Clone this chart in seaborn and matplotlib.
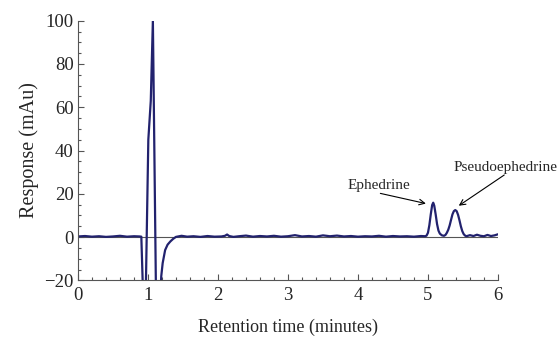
import numpy as np
import pandas as pd
import matplotlib
matplotlib.use("Agg")
import matplotlib.pyplot as plt
import seaborn as sns
from matplotlib.ticker import MultipleLocator

# retention time (min) and detector response (mAu)
time_min = [
    0.00, 0.10, 0.20, 0.30, 0.40, 0.50, 0.60, 0.70, 0.80, 0.88, 0.905,
    0.935, 0.965, 1.005, 1.04, 1.07, 1.115, 1.15, 1.175, 1.19, 1.21, 1.245,
    1.28, 1.32, 1.36, 1.40, 1.48, 1.56, 1.65, 1.75, 1.85, 1.95, 2.05, 2.10,
    2.13, 2.16, 2.22, 2.30, 2.40, 2.50, 2.60, 2.70, 2.80, 2.90, 3.00, 3.10,
    3.20, 3.30, 3.40, 3.50, 3.60, 3.70, 3.80, 3.90, 4.00, 4.10, 4.20, 4.30,
    4.40, 4.50, 4.60, 4.70, 4.80, 4.90, 4.96, 4.98, 5.00, 5.02, 5.04, 5.06,
    5.075, 5.09, 5.11, 5.13, 5.15, 5.17, 5.20, 5.23, 5.25, 5.27, 5.29, 5.31,
    5.33, 5.35, 5.37, 5.39, 5.41, 5.43, 5.45, 5.47, 5.49, 5.51, 5.53, 5.55,
    5.60, 5.65, 5.70, 5.75, 5.80, 5.85, 5.90, 5.95, 6.00,
]
response_mau = [
    0.3, 0.5, 0.2, 0.4, 0.1, 0.3, 0.6, 0.2, 0.4, 0.3, 0.2,
    -32, -32, 45, 63, 100, -28, -32, -28, -18, -12, -6,
    -3.5, -2.0, -0.8, 0.1, 0.6, 0.2, 0.4, 0.1, 0.5, 0.2, 0.3, 0.6,
    1.2, 0.5, 0.1, 0.4, 0.7, 0.2, 0.5, 0.3, 0.6, 0.2, 0.4, 0.9,
    0.3, 0.5, 0.2, 0.8, 0.4, 0.7, 0.3, 0.5, 0.2, 0.4, 0.3, 0.6,
    0.2, 0.5, 0.3, 0.4, 0.2, 0.5, 0.4, 0.7, 2.0, 5.5, 10.5, 14.8,
    15.9, 14.5, 10.5, 6.0, 3.0, 1.6, 0.8, 0.6, 1.0, 2.0, 3.4, 5.4,
    8.0, 10.5, 12.0, 12.5, 12.0, 10.3, 7.8, 5.0, 2.8, 1.4, 0.7, 0.4,
    0.9, 0.5, 1.1, 0.6, 0.4, 1.0, 0.5, 0.8, 1.3,
]

peak_labels = ["Ephedrine", "Pseudoephedrine"]
peak_tips = [(4.97, 15.5), (5.44, 14.5)]
label_pos = [(4.30, 23.8), (5.37, 32.0)]
arrow_tails = [(4.32, 20.2), (6.09, 28.7)]

df = pd.DataFrame({"time": time_min, "response": response_mau})

sns.set_style("ticks")
plt.rcParams["font.family"] = ["Liberation Serif", "DejaVu Serif"]

fig = plt.figure(figsize=(5.57, 3.37), dpi=100)
ax = fig.add_axes([0.140, 0.168, 0.754, 0.7706])

ax.axhline(0, color="#555555", lw=0.8, zorder=1)
sns.lineplot(data=df, x="time", y="response", ax=ax, color="#22226e",
             lw=1.6, estimator=None, sort=False, zorder=2)

for name, tip, pos, tail in zip(peak_labels, peak_tips, label_pos, arrow_tails):
    ha = "center" if name == "Ephedrine" else "left"
    ax.text(pos[0], pos[1], name, ha=ha, va="center", fontsize=11,
            clip_on=False)
    ax.annotate("", xy=tip, xytext=tail,
                arrowprops=dict(arrowstyle="->", color="black", lw=0.8,
                                shrinkA=0, shrinkB=0),
                annotation_clip=False)

ax.set_xlim(0, 6)
ax.set_ylim(-20, 100)
ax.xaxis.set_major_locator(MultipleLocator(1))
ax.xaxis.set_minor_locator(MultipleLocator(0.2))
ax.yaxis.set_major_locator(MultipleLocator(20))
ax.yaxis.set_minor_locator(MultipleLocator(5))
ax.tick_params(which="both", direction="in", color="#555555", width=0.8)
ax.tick_params(which="major", length=4, labelsize=13.5)
ax.tick_params(axis="x", which="major", pad=4.5)
ax.tick_params(axis="y", which="major", pad=3)
ax.tick_params(which="minor", length=2)
ax.set_yticks([-20, 0, 20, 40, 60, 80, 100])
ax.set_yticklabels(["\u221220", "0", "20", "40", "60", "80", "100"])

for side in ["top", "right"]:
    ax.spines[side].set_visible(False)
for side in ["left", "bottom"]:
    ax.spines[side].set_color("#555555")
    ax.spines[side].set_linewidth(0.8)

ax.set_xlabel("Retention time (minutes)", fontsize=13, labelpad=10.5)
ax.set_ylabel("Response (mAu)", fontsize=14.5, labelpad=4)

fig.savefig("out.png", dpi=100)
